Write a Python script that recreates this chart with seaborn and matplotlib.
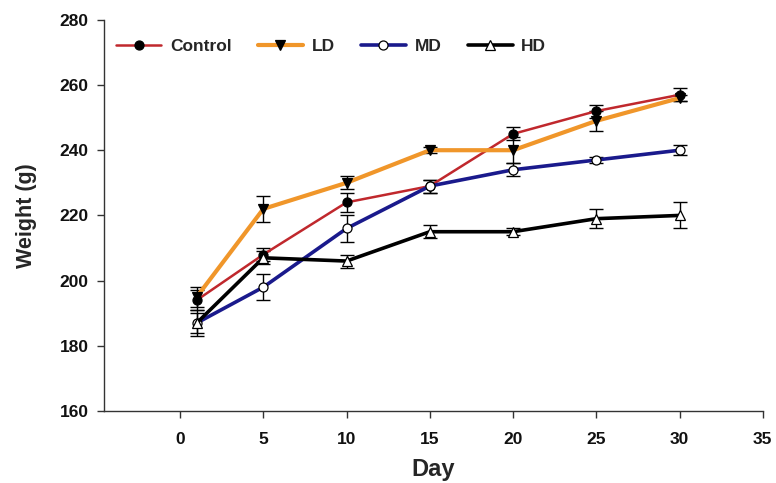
import matplotlib
matplotlib.use("Agg")
import matplotlib.pyplot as plt
import seaborn as sns
import pandas as pd

days = [1, 5, 10, 15, 20, 25, 30]
control = [194, 208, 224, 229, 245, 252, 257]
control_err = [3, 2, 3, 2, 2, 2, 2]
ld = [195, 222, 230, 240, 240, 249, 256]
ld_err = [3, 4, 2, 1, 4, 3, 1]
md = [187, 198, 216, 229, 234, 237, 240]
md_err = [3, 4, 4, 2, 2, 1, 1.5]
hd = [187, 207, 206, 215, 215, 219, 220]
hd_err = [4, 2, 2, 2, 1, 3, 4]

sns.set_style("ticks")
plt.rcParams['font.family'] = ['Liberation Sans', 'DejaVu Sans']

fig = plt.figure(figsize=(7.76, 4.83), dpi=100)
ax = fig.add_axes([0.134, 0.149, 0.849, 0.81])

# (label, values, errors, line color, marker, marker face, line width)
series = [
    ("Control", control, control_err, "#c0282d", "o", "black", 1.8),
    ("LD", ld, ld_err, "#f0962a", "v", "black", 3.0),
    ("MD", md, md_err, "#1a1a8c", "o", "white", 2.6),
    ("HD", hd, hd_err, "black", "^", "white", 2.6),
]

for label, vals, errs, color, marker, face, lw in series:
    df = pd.DataFrame({"Day": days, "Weight": vals})
    ax.errorbar(days, vals, yerr=errs, fmt="none", ecolor="black",
                elinewidth=1.0, capsize=5, capthick=1.0, zorder=2)
    sns.lineplot(data=df, x="Day", y="Weight", ax=ax, color=color, lw=lw,
                 marker=marker, markersize=6.5, markerfacecolor=face,
                 markeredgecolor="black", markeredgewidth=0.9,
                 label=label, zorder=3)

ax.set_xlim(-4.57, 35)
ax.set_ylim(160, 280)
ax.set_xticks([0, 5, 10, 15, 20, 25, 30, 35])
ax.set_yticks(range(160, 281, 20))
sns.despine(ax=ax)
for s in ["left", "bottom"]:
    ax.spines[s].set_color("#333333")
    ax.spines[s].set_linewidth(1.0)
ax.tick_params(direction="out", length=5, width=1, colors="#333333",
               labelcolor="#111111", labelsize=12.5)
ax.tick_params(axis="y", pad=6)
ax.tick_params(axis="x", pad=10)
for t in ax.get_xticklabels() + ax.get_yticklabels():
    t.set_fontweight("bold")

ax.set_xlabel("Day", fontsize=17, fontweight="bold", labelpad=8)
ax.set_ylabel("Weight (g)", fontsize=15.5, fontweight="bold", labelpad=16)

ax.legend(loc="upper left", bbox_to_anchor=(-0.005, 0.99), ncol=4, frameon=False,
          prop={"weight": "bold", "size": 12.5}, handlelength=2.6, columnspacing=1.5,
          handletextpad=0.5)

fig.savefig("out.png", dpi=100)
